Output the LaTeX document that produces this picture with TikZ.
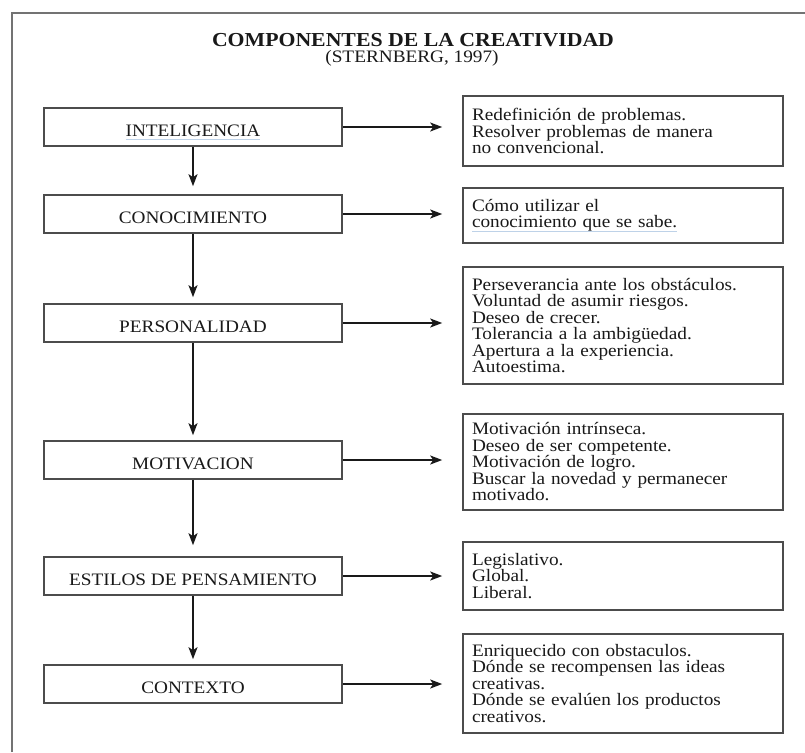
\documentclass[tikz,border=0pt]{standalone}
\usepackage{fontspec}
\setmainfont{Liberation Serif}[FakeStretch=1.1]
\usetikzlibrary{arrows.meta}
\definecolor{ink}{gray}{0.1}
\definecolor{boxline}{gray}{0.3}
\definecolor{framegray}{gray}{0.45}
\definecolor{linkblue}{RGB}{190,210,232}
\newsavebox{\ulboxreg}
\newcommand{\blueul}[1]{\leavevmode\sbox{\ulboxreg}{#1}\rlap{\textcolor{linkblue}{\rule[-4pt]{\wd\ulboxreg}{1pt}}}\usebox{\ulboxreg}}
\begin{document}
\begin{tikzpicture}[x=1pt,y=-1pt,
  lbox/.style={draw=boxline, line width=1.6pt, minimum width=298pt, minimum height=38pt,
    inner sep=0pt, text=ink, text height=18pt, text depth=0pt,
    font=\fontsize{17.5}{16.5}\selectfont},
  rbox/.style={draw=boxline, line width=1.6pt, text width=302pt, inner xsep=9pt,
    inner ysep=0pt, align=left, text=ink, font=\fontsize{17.5}{16.5}\selectfont},
  flow/.style={draw=ink, line width=1.8pt, -{Stealth[length=12pt,width=9pt,inset=3pt]}},
]
\useasboundingbox (0,0) rectangle (805,752);
\fill[white] (0,0) rectangle (805,752);
\draw[framegray, line width=1.8pt] (12,752) -- (12,13) -- (806,13);

\node[anchor=base, font=\fontsize{19.8}{20}\selectfont\bfseries, text=ink, inner sep=0pt]
  (title) at (413,46.5) {COMPONENTES DE LA CREATIVIDAD};
\node[anchor=base, font=\fontsize{17.5}{18}\selectfont, text=ink, inner sep=0pt]
  (sub) at (412,63) {(STERNBERG, 1997)};

\node[lbox] (l1) at (193,127) {\blueul{INTELIGENCIA}};
\node[lbox] (l2) at (193,214) {CONOCIMIENTO};
\node[lbox] (l3) at (193,323) {PERSONALIDAD};
\node[lbox] (l4) at (193,460) {MOTIVACION};
\node[lbox] (l5) at (193,576) {ESTILOS DE PENSAMIENTO};
\node[lbox] (l6) at (193,684) {CONTEXTO};

\node[rbox, minimum height=70pt] (r1) at (623,131)
  {Redefinición de problemas.\\Resolver problemas de manera\\no convencional.};
\node[rbox, minimum height=55pt] (r2) at (623,215.5)
  {Cómo utilizar el\\ \blueul{conocimiento que se sabe.}};
\node[rbox, minimum height=117pt] (r3) at (623,325.5)
  {Perseverancia ante los obstáculos.\\Voluntad de asumir riesgos.\\Deseo de crecer.\\Tolerancia a la ambigüedad.\\Apertura a la experiencia.\\Autoestima.};
\node[rbox, minimum height=96pt] (r4) at (623,462)
  {Motivación intrínseca.\\Deseo de ser competente.\\Motivación de logro.\\Buscar la novedad y permanecer\\motivado.};
\node[rbox, minimum height=68pt] (r5) at (623,576)
  {Legislativo.\\Global.\\Liberal.};
\node[rbox, minimum height=99pt] (r6) at (623,683.5)
  {Enriquecido con obstaculos.\\Dónde se recompensen las ideas\\creativas.\\Dónde se evalúen los productos\\creativos.};

\foreach \i in {1,...,6}{
  \draw[flow, shorten >=20pt] (l\i.east) -- (l\i.east -| r\i.west);
}
\draw[flow, shorten >=8pt] (l1.south) -- (l2.north);
\draw[flow, shorten >=6pt] (l2.south) -- (l3.north);
\draw[flow, shorten >=5pt] (l3.south) -- (l4.north);
\draw[flow, shorten >=11pt] (l4.south) -- (l5.north);
\draw[flow, shorten >=5pt] (l5.south) -- (l6.north);
\end{tikzpicture}
\end{document}
